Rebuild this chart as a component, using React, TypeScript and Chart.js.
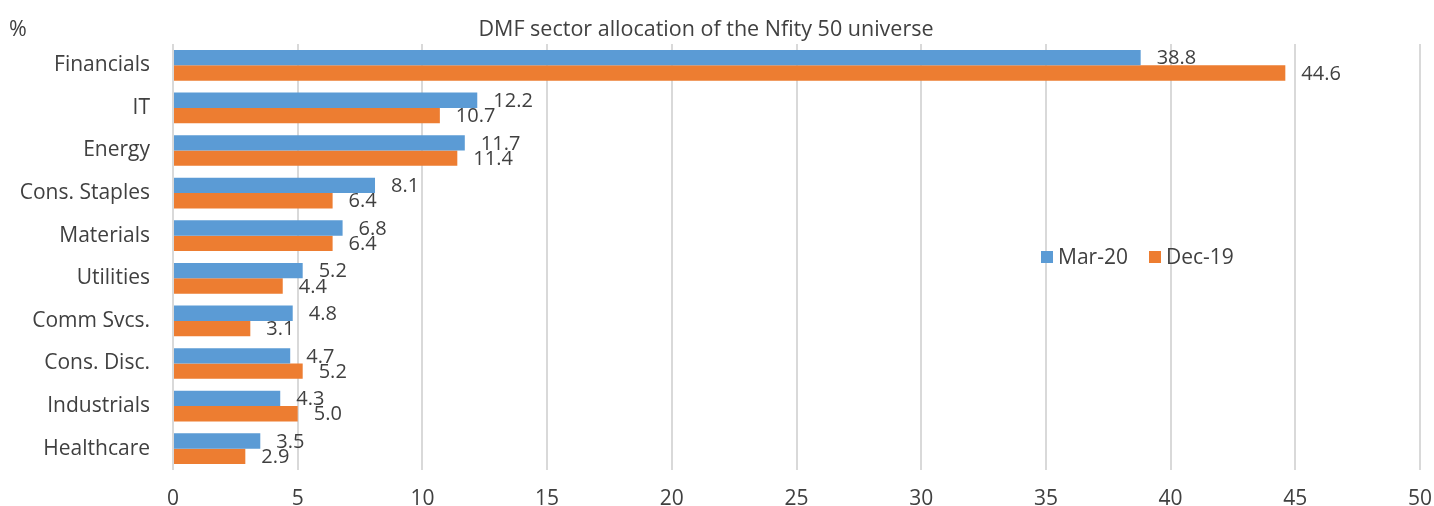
import React, { useEffect, useRef } from "react";
import { Chart, registerables } from "chart.js";

Chart.register(...registerables);

const categories = [
  "Financials",
  "IT",
  "Energy",
  "Cons. Staples",
  "Materials",
  "Utilities",
  "Comm Svcs.",
  "Cons. Disc.",
  "Industrials",
  "Healthcare",
];
const mar20 = [38.8, 12.2, 11.7, 8.1, 6.8, 5.2, 4.8, 4.7, 4.3, 3.5];
const dec19 = [44.6, 10.7, 11.4, 6.4, 6.4, 4.4, 3.1, 5.2, 5.0, 2.9];
const seriesNames = ["Mar-20", "Dec-19"];
const seriesColors = ["#5B9BD5", "#ED7D31"];
const titleText = "DMF sector allocation of the Nfity 50 universe";
const unitText = "%";

const FONT = "'Open Sans', 'Noto Sans', sans-serif";
const TEXT = "#404040";

const labelsPlugin = {
  id: "customLabels",
  afterDatasetsDraw(chart: any) {
    const ctx = chart.ctx;
    ctx.save();
    ctx.font = `20px ${FONT}`;
    ctx.fillStyle = TEXT;
    ctx.textAlign = "left";
    ctx.textBaseline = "middle";
    chart.data.datasets.forEach((ds: any, di: number) => {
      const meta = chart.getDatasetMeta(di);
      meta.data.forEach((bar: any, i: number) => {
        const v = ds.data[i];
        ctx.fillText(v.toFixed(1), bar.x + 16, bar.y + 1);
      });
    });
    // title and unit
    ctx.font = `21.5px ${FONT}`;
    ctx.textBaseline = "alphabetic";
    ctx.textAlign = "center";
    ctx.fillText(titleText, 706, 36);
    ctx.textAlign = "left";
    ctx.fillText(unitText, 9, 36);
    // legend
    ctx.font = `21px ${FONT}`;
    ctx.textBaseline = "middle";
    const legendItems = [
      { x: 1041, name: seriesNames[0], color: seriesColors[0] },
      { x: 1149, name: seriesNames[1], color: seriesColors[1] },
    ];
    legendItems.forEach((it) => {
      ctx.fillStyle = it.color;
      ctx.fillRect(it.x, 251, 12, 12);
      ctx.fillStyle = TEXT;
      ctx.fillText(it.name, it.x + 17, 258);
    });
    ctx.restore();
  },
};

export default function App() {
  const ref = useRef<HTMLCanvasElement | null>(null);
  useEffect(() => {
    if (!ref.current) return;
    const chart = new Chart(ref.current, {
      type: "bar",
      data: {
        labels: categories,
        datasets: [
          {
            label: seriesNames[0],
            data: mar20,
            backgroundColor: seriesColors[0],
            categoryPercentage: 0.72,
            barPercentage: 1.0,
          },
          {
            label: seriesNames[1],
            data: dec19,
            backgroundColor: seriesColors[1],
            categoryPercentage: 0.72,
            barPercentage: 1.0,
          },
        ],
      },
      options: {
        indexAxis: "y",
        animation: false,
        responsive: false,
        maintainAspectRatio: false,
        layout: { padding: { top: 44, right: 0, left: 0, bottom: 0 } },
        plugins: {
          legend: { display: false },
          title: { display: false },
          tooltip: { enabled: false },
        },
        scales: {
          x: {
            min: 0,
            max: 50,
            ticks: {
              stepSize: 5,
              padding: 16,
              color: TEXT,
              font: { family: FONT, size: 21 },
            },
            grid: { color: "#D9D9D9", lineWidth: 2, drawTicks: false },
            border: { display: false },
            afterFit: (s: any) => {
              s.height = 36;
              s.paddingRight = 14;
              s.paddingLeft = 0;
            },
          },
          y: {
            ticks: {
              padding: 23,
              color: TEXT,
              font: { family: FONT, size: 21 },
            },
            grid: { display: false, drawTicks: false },
            border: { display: false },
            afterFit: (s: any) => {
              s.width = 173;
            },
          },
        },
      },
      plugins: [labelsPlugin],
    });
    return () => chart.destroy();
  }, []);
  return (
    <div style={{ position: "absolute", left: 0, top: 0, width: 1434, height: 506, background: "#fff" }}>
      <canvas ref={ref} width={1434} height={506} />
    </div>
  );
}
